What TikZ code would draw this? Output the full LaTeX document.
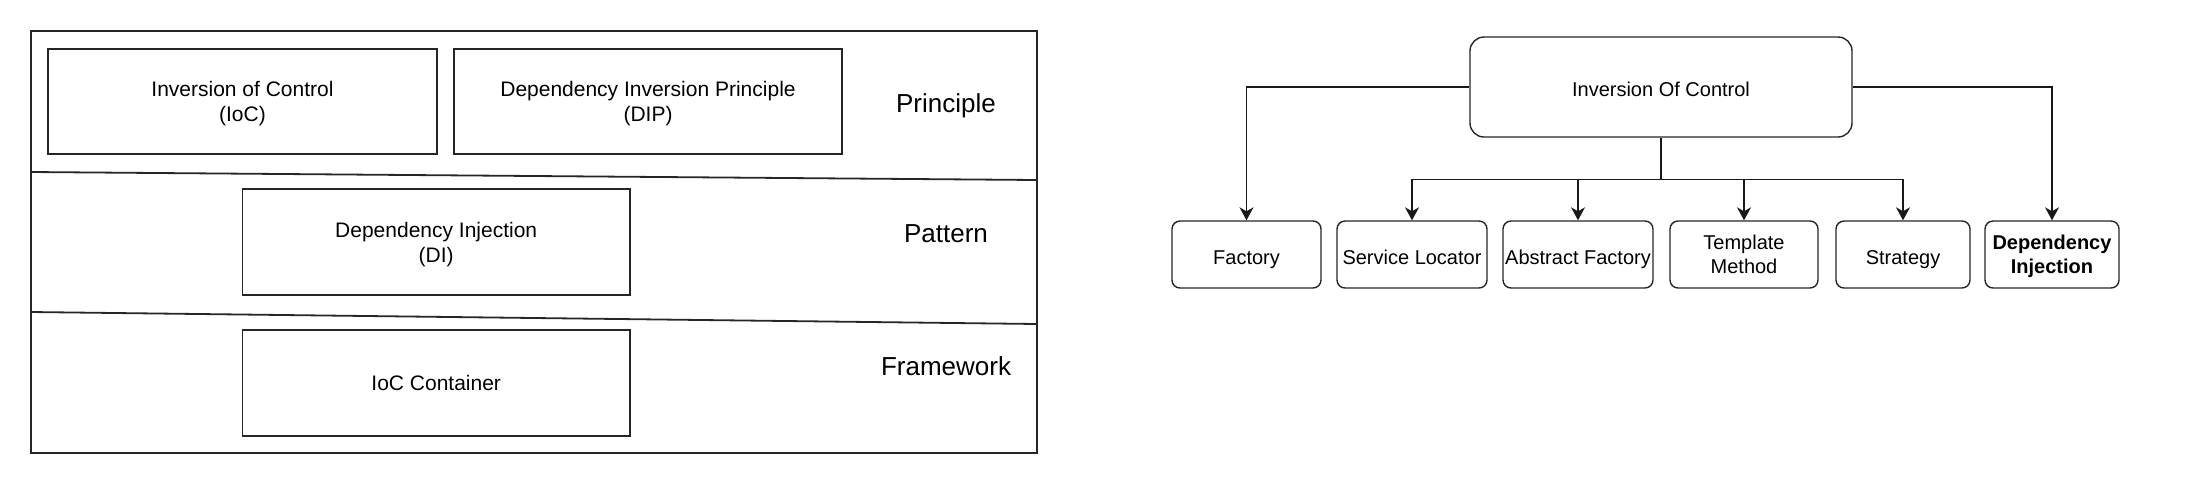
\documentclass[tikz,border=0pt]{standalone}
\usepackage{fontspec}
\setmainfont{Liberation Sans}
\usetikzlibrary{arrows.meta}
\begin{document}
\begin{tikzpicture}[x=1pt,y=1pt,
  layerbox/.style={draw=black!85, line width=0.9pt, inner sep=0pt, align=center,
    text depth=0pt, font=\fontsize{10.5}{12.5}\selectfont},
  layerlabel/.style={inner sep=0pt, text depth=0pt, font=\fontsize{13}{15}\selectfont},
  patbox/.style={draw=black!85, line width=0.7pt, rounded corners=4pt, inner sep=0pt,
    text depth=0pt, minimum height=33.5pt, align=center, font=\fontsize{10}{12}\selectfont,
    execute at begin node={\rule{0pt}{9.7pt}}},
  conn/.style={line width=0.7pt, draw=black!90},
  arr/.style={conn, -{Stealth[length=6.5pt,width=7pt,inset=2pt]}}
]
\useasboundingbox (0,0) rectangle (1098,-239);
% ---------- left: layers ----------
\coordinate (fTL) at (15.4,-15.5);
\coordinate (fBR) at (518.5,-226.5);
\draw[line width=0.9pt, draw=black!85] (fTL) rectangle (fBR);
\coordinate (d1L) at (15.4,-86);
\coordinate (d1R) at (518.5,-90);
\coordinate (d2L) at (15.4,-156);
\coordinate (d2R) at (518.5,-162);
\draw[line width=0.9pt, draw=black!85] (d1L) -- (d1R);
\draw[line width=0.9pt, draw=black!85] (d2L) -- (d2R);

\node[layerbox, minimum width=194.5pt, minimum height=52.5pt] (ioc) at (121.25,-50.75) {Inversion of Control\\(IoC)};
\node[layerbox, minimum width=194pt, minimum height=52.5pt] (dip) at (324,-50.75) {Dependency Inversion Principle\\(DIP)};
\node[layerbox, minimum width=193.75pt, minimum height=53pt] (dil) at (218.1,-121) {Dependency Injection\\(DI)};
\node[layerbox, minimum width=193.75pt, minimum height=53pt] (cont) at (218.1,-191.5) {IoC Container};

\node[layerlabel] (lprin) at (473,-51.5) {Principle};
\node[layerlabel] (lpat) at (473,-117) {Pattern};
\node[layerlabel] (lfw) at (473,-183) {Framework};

% ---------- right: tree ----------
\node[patbox, minimum width=191pt, minimum height=50pt, rounded corners=7pt] (top) at (830.5,-43.5) {Inversion Of Control};
\node[patbox, minimum width=74.5pt] (fac) at (623.25,-127.25) {Factory};
\node[patbox, minimum width=75pt] (sl) at (706,-127.25) {Service Locator};
\node[patbox, minimum width=75pt] (af) at (789,-127.25) {Abstract Factory};
\node[patbox, minimum width=74pt] (tm) at (872,-127.25) {Template\\Method};
\node[patbox, minimum width=67pt] (str) at (951.5,-127.25) {Strategy};
\node[patbox, minimum width=67pt, font=\fontsize{10}{12}\selectfont\bfseries] (di) at (1026,-127.25) {Dependency\\Injection};

\coordinate (bus) at (830.5,-89.75);
\draw[arr] (top.west) -| (fac.north);
\draw[arr] (top.east) -| (di.north);
\draw[conn] (top.south) -- (bus);
\draw[arr] (bus) -| (sl.north);
\draw[arr] (bus) -| (str.north);
\draw[arr] (bus -| af.north) -- (af.north);
\draw[arr] (bus -| tm.north) -- (tm.north);
\end{tikzpicture}
\end{document}
